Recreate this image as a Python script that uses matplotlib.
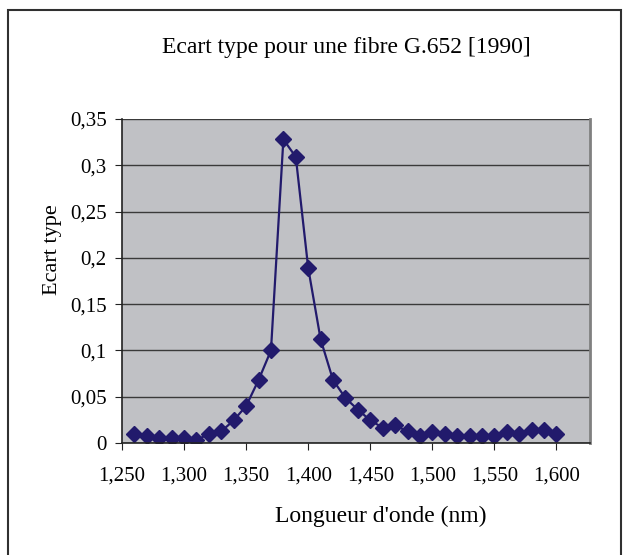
import numpy as np
import matplotlib.pyplot as plt
from matplotlib.patches import Rectangle
from matplotlib.ticker import FuncFormatter

# Longueur d'onde (nm) et ecart type
wavelength = [1260, 1270, 1280, 1290, 1300, 1310, 1320, 1330, 1340, 1350,
              1360, 1370, 1380, 1390, 1400, 1410, 1420, 1430, 1440, 1450,
              1460, 1470, 1480, 1490, 1500, 1510, 1520, 1530, 1540, 1550,
              1560, 1570, 1580, 1590, 1600]
ecart_type = [0.010, 0.008, 0.0055, 0.0055, 0.005, 0.003, 0.010, 0.0126, 0.0245, 0.040,
              0.068, 0.100, 0.328, 0.309, 0.189, 0.112, 0.068, 0.0486, 0.036, 0.0245,
              0.0165, 0.019, 0.0126, 0.008, 0.012, 0.010, 0.008, 0.008, 0.008, 0.008,
              0.012, 0.010, 0.0144, 0.0144, 0.010]
x_ticks = [1250, 1300, 1350, 1400, 1450, 1500, 1550, 1600]
y_ticks = [0, 0.05, 0.1, 0.15, 0.2, 0.25, 0.3, 0.35]

plt.rcParams['font.family'] = ['Liberation Serif', 'DejaVu Serif']

fig = plt.figure(figsize=(6.24, 5.55), dpi=100)
# cadre exterieur
fig.patches.append(Rectangle((8 / 624, -0.1), 613 / 624, 1.1 - 10 / 555,
                             transform=fig.transFigure, fill=False,
                             edgecolor='#303030', linewidth=1.5))

ax = fig.add_axes([122 / 624, 1 - 443 / 555, 468 / 624, 324 / 555])
ax.set_facecolor('#c0c1c5')
ax.plot(wavelength, ecart_type, color='#221a6c', linewidth=1.6,
        marker='D', markersize=8, markerfacecolor='#221a6c', markeredgecolor='#221a6c')

ax.set_xlim(1250, 1627)
ax.set_ylim(0, 0.35)
ax.set_xticks(x_ticks)
ax.set_yticks(y_ticks)
ax.xaxis.set_major_formatter(FuncFormatter(lambda v, p: '{:,.0f}'.format(v)))
ax.yaxis.set_major_formatter(FuncFormatter(lambda v, p: ('%g' % v).replace('.', ',')))
ax.grid(axis='y', color='#3a3a3a', linewidth=1)
ax.set_axisbelow(True)
ax.tick_params(axis='both', labelsize=15, direction='out', length=5, color='#222222')
ax.tick_params(axis='x', pad=12)
ax.tick_params(axis='y', pad=6)

for s in ['left', 'bottom']:
    ax.spines[s].set_color('#222222')
    ax.spines[s].set_linewidth(1.2)
ax.spines['top'].set_visible(False)
ax.spines['right'].set_color('#808080')
ax.spines['right'].set_linewidth(2)

fig.text(381 / 624, 1 - 516 / 555, "Longueur d'onde (nm)", fontsize=17,
         ha='center', va='center')
fig.text(53 / 624, 1 - 250 / 555, 'Ecart type', fontsize=16, rotation=90,
         ha='center', va='center')
fig.text(346 / 624, 1 - 47 / 555, 'Ecart type pour une fibre G.652 [1990]',
         fontsize=17, ha='center', va='center')

fig.savefig('out.png', dpi=100)
